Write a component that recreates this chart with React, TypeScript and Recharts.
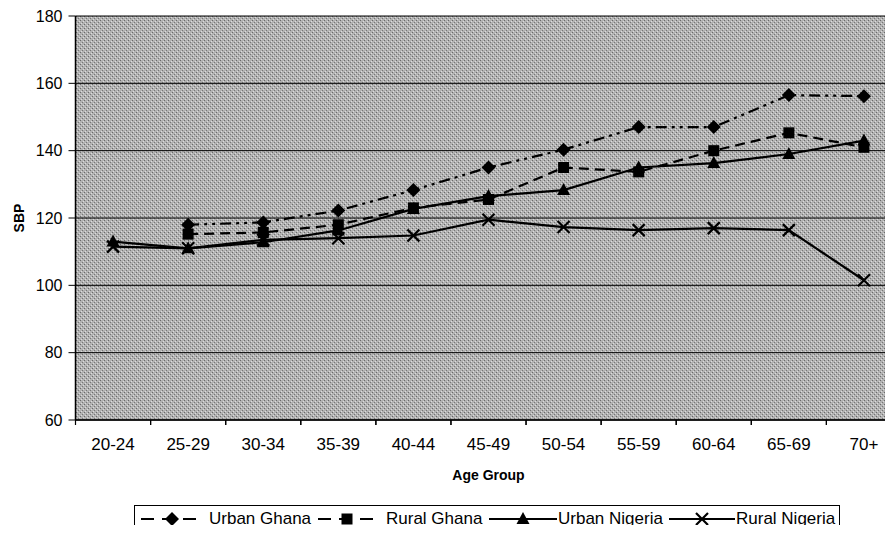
import { LineChart, Line, XAxis, YAxis, CartesianGrid } from "recharts";

const AGE_GROUPS = ["20-24", "25-29", "30-34", "35-39", "40-44", "45-49", "50-54", "55-59", "60-64", "65-69", "70+"];
const URBAN_GHANA = [null, 118, 118.7, 122.2, 128.3, 135, 140.3, 147, 147, 156.5, 156.2];
const RURAL_GHANA = [null, 115.2, 115.7, 118, 123, 125.5, 135, 133.7, 140, 145.3, 141];
const URBAN_NIGERIA = [113, 111, 112.8, 116.3, 122.7, 126.5, 128.3, 135, 136.3, 139, 143];
const RURAL_NIGERIA = [111.5, 111, 113.5, 114, 114.8, 119.5, 117.3, 116.4, 117, 116.4, 101.5];
const SBP_TICKS = [60, 80, 100, 120, 140, 160, 180];

const data = AGE_GROUPS.map((age, i) => ({
  age,
  urbanGhana: URBAN_GHANA[i],
  ruralGhana: RURAL_GHANA[i],
  urbanNigeria: URBAN_NIGERIA[i],
  ruralNigeria: RURAL_NIGERIA[i],
}));

const FONT = "'Liberation Sans', Arial, Helvetica, sans-serif";
const DASH_DOT_DOT = "11 5 3 5 3 5";
const DASHED = "10 6";
// half of one category band, so points sit in the middle of each band
const HALF_BAND = 37.55;

function Marker({ kind, cx, cy }: { kind: string; cx: number; cy: number }) {
  if (kind === "diamond")
    return <path d={`M${cx},${cy - 7}L${cx + 7},${cy}L${cx},${cy + 7}L${cx - 7},${cy}Z`} fill="#000" />;
  if (kind === "square") return <rect x={cx - 5.5} y={cy - 5.5} width={11} height={11} fill="#000" />;
  if (kind === "triangle")
    return <path d={`M${cx},${cy - 7}L${cx + 6.5},${cy + 5}L${cx - 6.5},${cy + 5}Z`} fill="#000" />;
  return (
    <path
      d={`M${cx - 6},${cy - 6}L${cx + 6},${cy + 6}M${cx + 6},${cy - 6}L${cx - 6},${cy + 6}`}
      stroke="#000"
      strokeWidth={2.2}
      fill="none"
    />
  );
}

const makeDot = (kind: string) => (p: any) => {
  if (p.cx == null || p.cy == null || p.value == null) return <g key={`d-${kind}-${p.index}`} />;
  return (
    <g key={`d-${kind}-${p.index}`}>
      <Marker kind={kind} cx={p.cx} cy={p.cy} />
    </g>
  );
};

// Excel-style category tick: mark sits between categories, label in the middle
function AgeTick(props: any) {
  const { x, y, payload } = props;
  return (
    <g>
      <line x1={x - HALF_BAND} y1={y} x2={x - HALF_BAND} y2={y + 5} stroke="#000" strokeWidth={1.2} />
      <line x1={x + HALF_BAND} y1={y} x2={x + HALF_BAND} y2={y + 5} stroke="#000" strokeWidth={1.2} />
      <text x={x} y={y + 30} textAnchor="middle" fontSize={17} fill="#000" fontFamily={FONT}>
        {payload.value}
      </text>
    </g>
  );
}

function LegendIcon({ kind, dash, width }: { kind: string; dash?: string; width: number }) {
  const mid = width / 2;
  return (
    <svg width={width} height={16} style={{ display: "block" }}>
      <line x1={0} y1={8} x2={width} y2={8} stroke="#000" strokeWidth={2.2} strokeDasharray={dash} />
      <Marker kind={kind} cx={mid} cy={8} />
    </svg>
  );
}

const LEGEND = [
  { name: "Urban Ghana", kind: "diamond", dash: "13 8", left: 6, width: 62, textLeft: 74 },
  { name: "Rural Ghana", kind: "square", dash: "13 8", left: 183, width: 58, textLeft: 251 },
  { name: "Urban Nigeria", kind: "triangle", dash: undefined, left: 354, width: 68, textLeft: 423 },
  { name: "Rural Nigeria", kind: "cross", dash: undefined, left: 534, width: 66, textLeft: 601 },
];

export default function App() {
  return (
    <div style={{ margin: -8, width: 893, height: 533, overflow: "hidden", position: "relative", background: "#fff" }}>
      <svg width={0} height={0} style={{ position: "absolute" }}>
        <defs>
          <pattern id="stipple" width={4} height={4} patternUnits="userSpaceOnUse">
            <rect width={4} height={4} fill="#b2b2b2" />
            <rect x={0} y={0} width={1} height={1} fill="#6a6a6a" />
            <rect x={2} y={2} width={1} height={1} fill="#777" />
            <rect x={1} y={3} width={1} height={1} fill="#dcdcdc" />
            <rect x={3} y={1} width={1} height={1} fill="#dcdcdc" />
          </pattern>
        </defs>
      </svg>
      <LineChart width={910} height={533} data={data} margin={{ top: 16, right: 8.5, bottom: 48, left: 0 }}>
        <CartesianGrid vertical={false} stroke="#000" strokeWidth={1} fill="url(#stipple)" fillOpacity={1} />
        <XAxis
          dataKey="age"
          height={65}
          padding={{ left: HALF_BAND, right: HALF_BAND }}
          axisLine={{ stroke: "#000", strokeWidth: 1.5 }}
          tickLine={false}
          tickSize={0}
          tickMargin={0}
          tick={<AgeTick />}
          interval={0}
          label={{
            value: "Age Group",
            position: "insideBottom",
            offset: 5,
            style: { fontSize: 14, fontWeight: "bold", fill: "#000", fontFamily: FONT },
          }}
        />
        <YAxis
          width={75.5}
          domain={[60, 180]}
          ticks={SBP_TICKS}
          axisLine={{ stroke: "#000", strokeWidth: 1.5 }}
          tickLine={{ stroke: "#000" }}
          tickSize={7}
          tickMargin={6}
          tick={{ fontSize: 16, fill: "#000", fontFamily: FONT }}
          label={{
            value: "SBP",
            angle: -90,
            position: "insideLeft",
            offset: 19,
            style: { fontSize: 14, fontWeight: "bold", fill: "#000", fontFamily: FONT, textAnchor: "middle" },
          }}
        />
        <Line
          dataKey="urbanGhana"
          stroke="#000"
          strokeWidth={2.2}
          strokeDasharray={DASH_DOT_DOT}
          dot={makeDot("diamond")}
          isAnimationActive={false}
        />
        <Line
          dataKey="ruralGhana"
          stroke="#000"
          strokeWidth={2.2}
          strokeDasharray={DASHED}
          dot={makeDot("square")}
          isAnimationActive={false}
        />
        <Line dataKey="urbanNigeria" stroke="#000" strokeWidth={2.2} dot={makeDot("triangle")} isAnimationActive={false} />
        <Line dataKey="ruralNigeria" stroke="#000" strokeWidth={2.2} dot={makeDot("cross")} isAnimationActive={false} />
      </LineChart>
      <div
        style={{
          position: "absolute",
          left: 134,
          top: 505,
          width: 704,
          height: 26,
          border: "1px solid #000",
          fontFamily: FONT,
          fontSize: 17,
          color: "#000",
        }}
      >
        {LEGEND.map((it) => (
          <div key={it.name}>
            <div style={{ position: "absolute", left: it.left, top: 5 }}>
              <LegendIcon kind={it.kind} dash={it.dash} width={it.width} />
            </div>
            <div style={{ position: "absolute", left: it.textLeft, top: 3, whiteSpace: "nowrap", lineHeight: "20px" }}>
              {it.name}
            </div>
          </div>
        ))}
      </div>
    </div>
  );
}
